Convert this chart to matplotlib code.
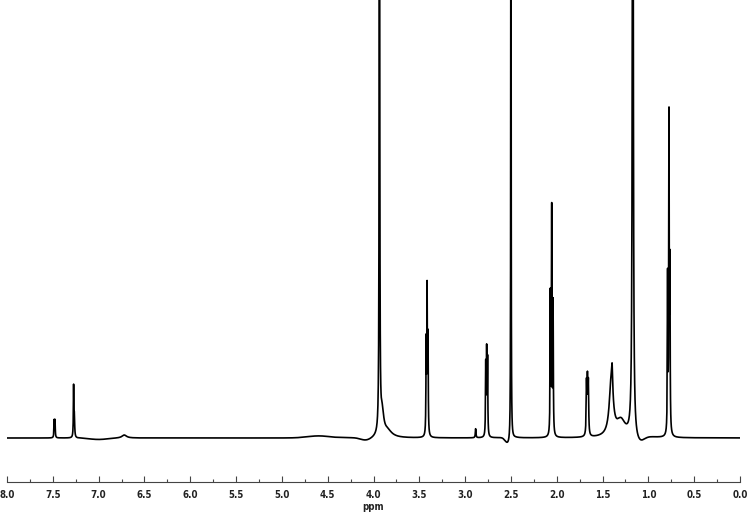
import numpy as np
import matplotlib.pyplot as plt
from matplotlib.ticker import MultipleLocator

# peak lines: position (ppm), height (a.u.), half width (ppm)
peak_ppm = [7.485, 7.476, 7.273, 7.265, 6.72,
            3.935, 3.905, 3.85,
            3.425, 3.415, 3.405,
            2.885,
            2.775, 2.765, 2.755,
            2.500,
            2.07, 2.055, 2.04,
            1.675, 1.665, 1.655,
            1.405, 1.395, 1.30,
            1.170,
            0.79, 0.775, 0.765]
peak_height = [17, 17, 50, 20, 3,
               900, 22, 7,
               90, 142, 95,
               9,
               70, 82, 75,
               900,
               140, 225, 130,
               50, 52, 50,
               55, 22, 16,
               1000,
               155, 312, 160]
peak_width = [0.003, 0.003, 0.003, 0.004, 0.03,
              0.003, 0.02, 0.06,
              0.003, 0.003, 0.003,
              0.004,
              0.003, 0.003, 0.003,
              0.002,
              0.003, 0.003, 0.003,
              0.004, 0.004, 0.004,
              0.025, 0.006, 0.06,
              0.005,
              0.003, 0.003, 0.003]

# baseline distortions: centre (ppm), depth, width
dip_ppm = [4.08, 4.6, 2.53, 1.10, 7.0]
dip_depth = [-3, 2, -7, -7, -1.5]
dip_width = [0.06, 0.12, 0.03, 0.05, 0.1]

ppm = np.linspace(0, 8, 20000)
y = np.zeros_like(ppm)
for p, h, w in zip(peak_ppm, peak_height, peak_width):
    y += h * w**2 / ((ppm - p)**2 + w**2)
for p, d, w in zip(dip_ppm, dip_depth, dip_width):
    y += d * np.exp(-0.5 * ((ppm - p) / w)**2)

fig = plt.figure(figsize=(7.48, 5.13), dpi=100)
ax = fig.add_axes([7 / 748, 31 / 513, 733 / 748, 482 / 513])
ax.plot(ppm, y, color='black', lw=1.2)

ax.set_xlim(8.0, 0.0)
ax.set_ylim(-44, 438)

for s in ['left', 'right', 'top']:
    ax.spines[s].set_visible(False)
ax.spines['bottom'].set_color('#444444')
ax.spines['bottom'].set_linewidth(0.8)
ax.set_yticks([])
ax.xaxis.set_minor_locator(MultipleLocator(0.25))
ax.tick_params(axis='x', which='major', direction='in', length=4, width=0.8,
               color='#444444', pad=6)
ax.tick_params(axis='x', which='minor', direction='in', length=2.5, width=0.8,
               color='#444444')
ticks = np.arange(0, 8.01, 0.5)
ax.set_xticks(ticks)
ax.set_xticklabels([f'{v:.1f}' for v in ticks], fontsize=7, fontweight='bold',
                   family='DejaVu Sans', fontstretch='condensed', color='#222222')
ax.set_xlabel('ppm', fontsize=7, fontweight='bold', family='DejaVu Sans',
              fontstretch='condensed', color='#222222', labelpad=1)

fig.savefig('out.png', dpi=100)
